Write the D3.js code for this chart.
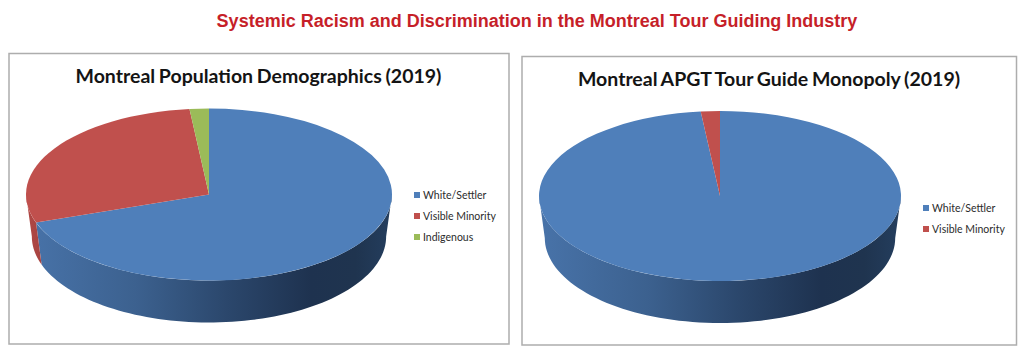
<!DOCTYPE html>
<html>
<head>
    <style>
        body { margin: 0; background: #fff; }
        svg { display: block; }
        .frame { fill: #fff; stroke: #adadad; stroke-width: 1.5; }
        .page-title { font: bold 18px "Liberation Sans", sans-serif; fill: #c61f29; text-anchor: middle; }
        .chart-title { font: bold 19.5px Lato, sans-serif; fill: #141414; text-anchor: middle; word-spacing: -1px; }
        .legend text { font: 10.5px Lato, sans-serif; fill: #2b2b2b; }
    </style>
</head>
<body>
<script src="https://d3js.org/d3.v7.min.js"></script>
<svg width="1024" height="357"></svg>
<script>
    var pageTitle = "Systemic Racism and Discrimination in the Montreal Tour Guiding Industry";

    var populationTitle = "Montreal Population Demographics (2019)";
    var populationLabels = ["White/Settler", "Visible Minority", "Indigenous"];
    var populationValues = [69.7, 28.6, 1.7];

    var guideTitle = "Montreal APGT Tour Guide Monopoly (2019)";
    var guideLabels = ["White/Settler", "Visible Minority"];
    var guideValues = [98.3, 1.7];

    var topColors = ["#4f7fba", "#c0504d", "#9bbb59"];

    var svg = d3.select("svg");

    svg.append("text")
        .attr("class", "page-title")
        .attr("x", 537)
        .attr("y", 27)
        .text(pageTitle);

    // Side shading runs left to right across the whole pie
    function addGradient(id, x1, x2, stops) {
        var grad = svg.append("defs").append("linearGradient")
            .attr("id", id)
            .attr("gradientUnits", "userSpaceOnUse")
            .attr("x1", x1)
            .attr("x2", x2)
            .attr("y1", 0)
            .attr("y2", 0);
        grad.selectAll("stop")
            .data(stops)
            .enter().append("stop")
            .attr("offset", function(d) { return d[0]; })
            .attr("stop-color", function(d) { return d[1]; });
    }

    function drawChart(opts) {
        var g = svg.append("g");

        g.append("rect")
            .attr("class", "frame")
            .attr("x", opts.frame[0])
            .attr("y", opts.frame[1])
            .attr("width", opts.frame[2])
            .attr("height", opts.frame[3]);

        g.append("text")
            .attr("class", "chart-title")
            .attr("x", opts.titleX)
            .attr("y", opts.titleY)
            .text(opts.title);

        var cx = opts.cx, cy = opts.cy, rx = opts.rx, ry = opts.ry, depth = opts.depth;

        var x = d3.scaleLinear().domain([-1, 1]).range([cx - rx, cx + rx]);
        var y = d3.scaleLinear().domain([-1, 1]).range([cy + ry, cy - ry]);
        // The bottom rim is a little narrower, the chart has some perspective
        var xBottom = d3.scaleLinear().domain([-1, 1]).range([cx - rx * 0.968, cx + rx * 0.968]);

        var pie = d3.pie().sort(null).value(function(d) { return d; });
        var slices = pie(opts.values);

        addGradient(opts.id + "-blue", cx - rx, cx + rx, [
            [0, "#4873a9"], [0.3, "#3c618f"], [0.55, "#2b476c"],
            [0.78, "#1e324f"], [0.9, "#1f344f"], [1, "#243e5e"]
        ]);
        addGradient(opts.id + "-red", cx - rx, cx - rx + 30, [
            [0, "#b04845"], [1, "#a03f3d"]
        ]);
        var sideFills = ["url(#" + opts.id + "-blue)", "url(#" + opts.id + "-red)", "#7d964a"];

        var wall = d3.area()
            .x0(function(a) { return x(Math.sin(a)); })
            .x1(function(a) { return xBottom(Math.sin(a)); })
            .y0(function(a) { return y(Math.cos(a)); })
            .y1(function(a) { return y(Math.cos(a)) + depth; });

        // Only the front half of the pie shows a side wall
        slices.forEach(function(s, i) {
            var a0 = Math.max(s.startAngle, Math.PI / 2);
            var a1 = Math.min(s.endAngle, Math.PI * 1.5);
            if (a1 <= a0) return;
            var angles = d3.range(0, 81).map(function(k) { return a0 + (a1 - a0) * k / 80; });
            g.append("path")
                .attr("d", wall(angles))
                .attr("fill", sideFills[i]);
        });

        var arc = d3.arc().innerRadius(0).outerRadius(rx);

        g.append("g")
            .attr("transform", "translate(" + cx + "," + cy + ") scale(1," + (ry / rx) + ")")
            .selectAll("path")
            .data(slices)
            .enter().append("path")
            .attr("d", arc)
            .attr("fill", function(d, i) { return topColors[i]; });

        var legend = g.selectAll(".legend")
            .data(opts.labels)
            .enter().append("g")
            .attr("class", "legend")
            .attr("transform", function(d, i) {
                return "translate(" + opts.legendX + "," + (opts.legendY + i * 21) + ")";
            });

        legend.append("rect")
            .attr("x", 0)
            .attr("y", -3)
            .attr("width", 6)
            .attr("height", 6)
            .attr("fill", function(d, i) { return topColors[i]; });

        legend.append("text")
            .attr("x", 9)
            .attr("y", 4)
            .text(function(d) { return d; });
    }

    drawChart({
        id: "population", title: populationTitle, labels: populationLabels, values: populationValues,
        frame: [9, 53.5, 500, 290.5], titleX: 258.5, titleY: 83,
        cx: 209, cy: 194.5, rx: 183, ry: 86, depth: 42,
        legendX: 414, legendY: 195
    });

    drawChart({
        id: "guide", title: guideTitle, labels: guideLabels, values: guideValues,
        frame: [522, 56.5, 494.5, 288.5], titleX: 769, titleY: 86,
        cx: 720, cy: 196, rx: 181, ry: 85, depth: 42,
        legendX: 923, legendY: 208
    });
</script>
</body>
</html>
